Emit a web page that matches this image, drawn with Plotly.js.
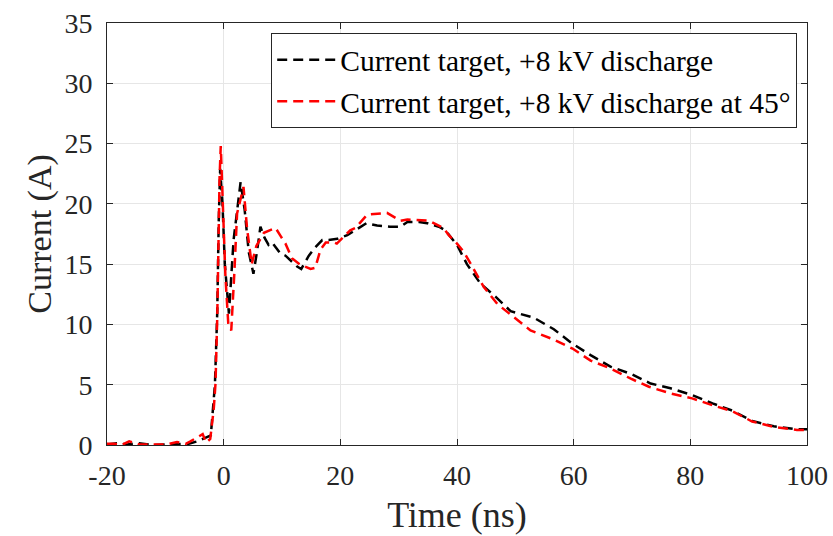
<!DOCTYPE html>
<html>
<head>
<meta charset="utf-8">
<script src="https://cdn.plot.ly/plotly-3.0.1.min.js"></script>
<style>html,body{margin:0;padding:0;background:#fff;}#chart{width:833px;height:536px;}</style>
</head>
<body>
<div id="chart"></div>
<script>
var timeBlack = [-20,-18.3,-16.5,-14.6,-12,-9,-6,-4.5,-3,-2.2,-1.5,-1.1,-0.85,-0.6,-0.2,0.2,0.9,1.7,2.9,3.6,4.3,5.1,5.7,6.3,7.0,7.7,8.3,9.7,10.6,12.6,13.3,14.6,15.7,16.9,18.0,19.5,21.2,23.4,24.5,26.3,28.5,30.3,31.5,33.5,34.9,36.9,38,40,41.7,44,46.6,49.2,53.2,56.6,59.8,62.9,66.3,69.8,73.2,76.6,80.3,83.8,87.2,90.6,94.3,98.3,100];
var currentBlack = [0.05,0.15,0.05,0.15,0.0,0.05,0.1,0.3,0.6,0.8,5,11,18.5,22.9,20,15,10.9,17,21.8,19.5,16,14.2,16,18.1,17.2,16.6,16.8,15.9,15.7,14.8,14.6,15.7,16.4,17.0,17.0,17.1,17.4,18.1,18.4,18.2,18.1,18.1,18.5,18.5,18.4,18.1,17.8,16.6,15.0,13.4,12.3,11.1,10.55,9.6,8.4,7.45,6.5,5.9,5.1,4.7,4.15,3.45,2.85,2.0,1.55,1.3,1.3];
var timeRed = [-20,-18.8,-17.5,-16.2,-14.5,-12.6,-9.7,-8,-6.5,-5.7,-4.6,-3.6,-3.0,-2.3,-1.7,-1.4,-1.1,-0.85,-0.7,-0.5,-0.2,0.3,0.8,1.3,1.8,2.3,3.4,4.0,4.8,5.6,6.9,8.9,9.8,10.6,11.7,13,14.9,15.7,16.6,17.5,18.9,19.4,21.7,22.6,24.6,26.9,28,30.3,31.5,35.2,37.7,38.6,40,41.2,42.9,44.6,46.9,49.7,52.6,56.3,59.8,62.9,66.3,69.8,72.9,76.6,80.3,83.8,87.2,90.6,94.3,98.3,100];
var currentRed = [0.1,0.1,0.0,0.3,0.05,0.05,0.05,0.25,0.1,0.3,0.6,0.9,0.2,0.5,3,5.1,10.6,18.9,22.2,24.8,21,14,10,9.5,14,19.2,21.4,18,15.0,16.5,17.6,18.0,17.3,16.7,15.5,15.0,14.6,14.7,16.2,16.8,16.8,16.7,17.8,18.0,19.1,19.2,19.25,18.6,18.7,18.6,18.0,17.4,16.7,16.0,14.6,13.1,11.7,10.6,9.5,8.8,8.0,7.0,6.35,5.5,4.83,4.28,3.87,3.3,2.8,1.95,1.5,1.25,1.25];
var seriesNames = ['Current target, +8 kV discharge','Current target, +8 kV discharge at 45°'];
var xTicks = [-20,0,20,40,60,80,100];
var yTicks = [0,5,10,15,20,25,30,35];

var traces = [
  {x: timeBlack, y: currentBlack, name: seriesNames[0], mode: 'lines', type: 'scatter',
   line: {color: '#000000', width: 2.5, dash: '10px,6px'}},
  {x: timeRed, y: currentRed, name: seriesNames[1], mode: 'lines', type: 'scatter',
   line: {color: '#ff0000', width: 2.5, dash: '10px,6px'}}
];
var serif = 'Liberation Serif, Times New Roman, serif';
var axisCommon = {
  showline: true, linecolor: '#262626', linewidth: 1, mirror: 'allticks',
  ticks: 'inside', ticklen: 6, tickcolor: '#262626',
  showgrid: true, gridcolor: '#e6e6e6', gridwidth: 1, zeroline: false,
  tickfont: {family: serif, size: 28, color: '#262626'}
};
var layout = {
  width: 833, height: 536,
  margin: {l: 107, r: 26, t: 23, b: 91},
  paper_bgcolor: '#ffffff', plot_bgcolor: '#ffffff',
  font: {family: serif, color: '#262626'},
  xaxis: Object.assign({}, axisCommon, {range: [-20, 100], tickvals: xTicks, ticktext: xTicks.map(String),
    ticklabelstandoff: 5,
    title: {text: 'Time (ns)', font: {size: 36, color: '#262626'}, standoff: 12}}),
  yaxis: Object.assign({}, axisCommon, {range: [0, 35], tickvals: yTicks, ticktext: yTicks.map(String),
    ticklabelstandoff: 8,
    title: {text: 'Current (A)', font: {size: 34, color: '#262626'}, standoff: 2}}),
  showlegend: true,
  legend: {x: 0.986, y: 0.976, xanchor: 'right', yanchor: 'top',
    bgcolor: '#ffffff', bordercolor: '#262626', borderwidth: 1,
    font: {family: serif, size: 29.5, color: '#000000'},
    tracegroupgap: 0, itemwidth: 58}
};
Plotly.newPlot('chart', traces, layout, {displayModeBar: false, staticPlot: true});
</script>
</body>
</html>
